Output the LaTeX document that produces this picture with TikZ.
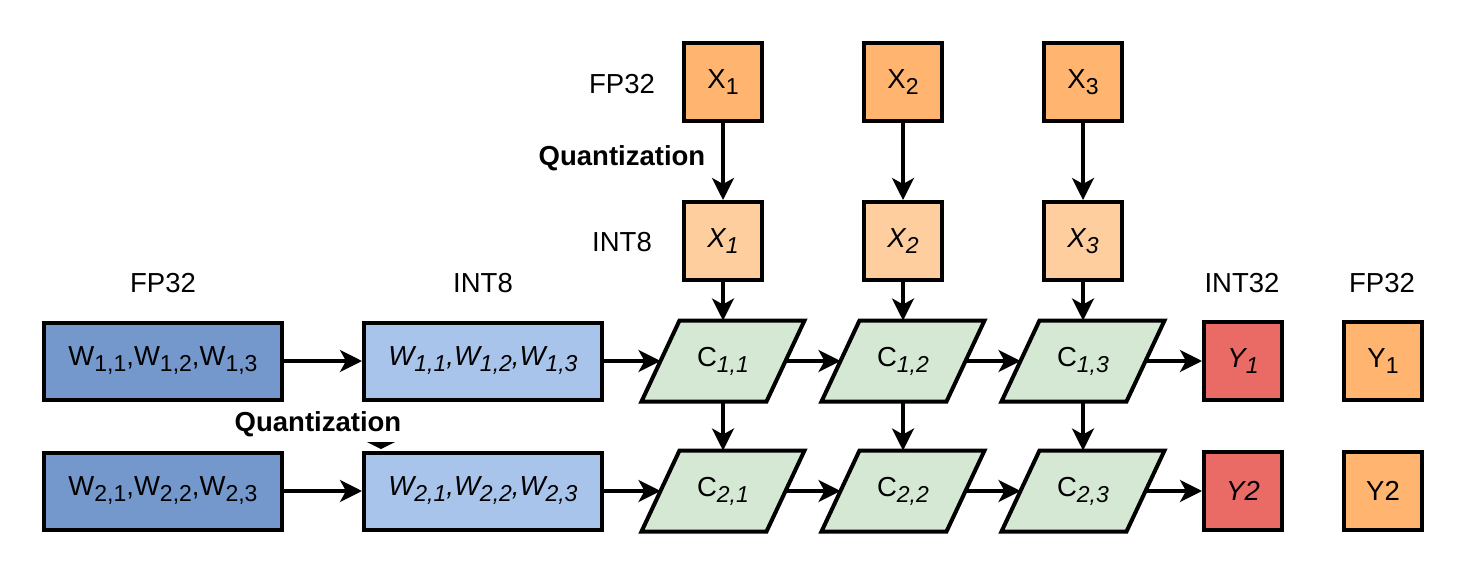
\documentclass[tikz,border=0pt]{standalone}
\usepackage{fontspec}
\setmainfont{Liberation Sans}
\usetikzlibrary{arrows.meta,backgrounds,calc}
\definecolor{wfp}{HTML}{7498CC}
\definecolor{wint}{HTML}{A9C4EB}
\definecolor{xfp}{HTML}{FFB570}
\definecolor{xint}{HTML}{FFCE9F}
\definecolor{cgreen}{HTML}{D5E8D4}
\definecolor{yred}{HTML}{EA6B66}
\newcommand{\sbs}[1]{\raisebox{-6pt}{\fontsize{23}{23}\selectfont #1}}
\begin{document}
\begin{tikzpicture}[x=1pt,y=-1pt,
 lab/.style={font=\fontsize{27.5}{33}\selectfont, inner sep=0pt},
 boldlab/.style={font=\fontsize{27.5}{33}\selectfont\bfseries, inner sep=0pt},
 box/.style={draw, line width=4pt, font=\fontsize{27.5}{33}\selectfont, inner sep=0pt},
 sq/.style={box, minimum width=78pt, minimum height=78pt},
 wbox/.style={box, minimum width=238pt, minimum height=77pt},
 cnode/.style={font=\fontsize{27.5}{33}\selectfont, inner sep=0pt, outer sep=2pt, minimum width=121pt, minimum height=77pt},
 arr/.style={line width=3.5pt, -{Stealth[length=22pt,width=22pt,inset=6pt]}},
 para/.style={fill=cgreen, draw, line width=4pt, line join=miter}]
\useasboundingbox (0,0) rectangle (1464,572);

% X inputs
\node[sq, fill=xfp] (xf1) at (723,82) {X\sbs{1}};
\node[sq, fill=xfp] (xf2) at (903,82) {X\sbs{2}};
\node[sq, fill=xfp] (xf3) at (1083,82) {X\sbs{3}};
\node[sq, fill=xint] (xi1) at (723,241) {\itshape X\sbs{1}};
\node[sq, fill=xint] (xi2) at (903,241) {\itshape X\sbs{2}};
\node[sq, fill=xint] (xi3) at (1083,241) {\itshape X\sbs{3}};

% W
\node[wbox, fill=wfp] (wf1) at (163,361) {W\sbs{1,1},W\sbs{1,2},W\sbs{1,3}};
\node[wbox, fill=wfp] (wf2) at (163,491) {W\sbs{2,1},W\sbs{2,2},W\sbs{2,3}};
\node[wbox, fill=wint] (wi1) at (483,361) {\itshape W\sbs{1,1},W\sbs{1,2},W\sbs{1,3}};
\node[wbox, fill=wint] (wi2) at (483,491) {\itshape W\sbs{2,1},W\sbs{2,2},W\sbs{2,3}};

% C
\node[cnode] (c11) at (723,361) {C\sbs{\itshape 1,1}};
\node[cnode] (c12) at (903,361) {C\sbs{\itshape 1,2}};
\node[cnode] (c13) at (1083,361) {C\sbs{\itshape 1,3}};
\node[cnode] (c21) at (723,491) {C\sbs{\itshape 2,1}};
\node[cnode] (c22) at (903,491) {C\sbs{\itshape 2,2}};
\node[cnode] (c23) at (1083,491) {C\sbs{\itshape 2,3}};

% Y
\node[sq, fill=yred] (yi1) at (1243,361) {\itshape Y\sbs{1}};
\node[sq, fill=yred] (yi2) at (1243,491) {\itshape Y2};
\node[sq, fill=xfp] (yf1) at (1383,361) {Y\sbs{1}};
\node[sq, fill=xfp] (yf2) at (1383,491) {Y2};

% labels
\node[lab] (l1) at (622,84) {FP32};
\node[boldlab] (q1) at (622,158) {Quantization};
\node[lab] (l2) at (622,242) {INT8};
\node[lab] (l3) at (163,283) {FP32};
\node[lab] (l4) at (483,283) {INT8};
\node[lab] (l5) at (1242,283) {INT32};
\node[lab] (l6) at (1382,283) {FP32};
\node[boldlab] (q2) at (318,424) {Quantization};

% background: white + parallelograms
\begin{scope}[on background layer]
\fill[white] (0,0) rectangle (1464,572);
\foreach \n in {c11,c12,c13,c21,c22,c23}{
  \draw[para] ($(\n.south west)+(-19,0)$) -- ($(\n.north west)+(19,0)$) -- ($(\n.north east)+(19,0)$) -- ($(\n.south east)+(-19,0)$) -- cycle;
}
\end{scope}

% arrows
\draw[arr] (xf1) -- (xi1);
\draw[arr] (xf2) -- (xi2);
\draw[arr] (xf3) -- (xi3);
\draw[arr] (xi1) -- (c11);
\draw[arr] (xi2) -- (c12);
\draw[arr] (xi3) -- (c13);
\draw[arr] (wf1) -- (wi1);
\draw[arr] (wf2) -- (wi2);
\draw[arr] (wi1) -- (c11);
\draw[arr] (wi2) -- (c21);
\draw[arr] (c11) -- (c12);
\draw[arr] (c12) -- (c13);
\draw[arr] (c21) -- (c22);
\draw[arr] (c22) -- (c23);
\draw[arr] (c11) -- (c21);
\draw[arr] (c12) -- (c22);
\draw[arr] (c13) -- (c23);
\draw[arr] (c13) -- (yi1);
\draw[arr] (c23) -- (yi2);
\coordinate (qt) at (381,438);
\coordinate (qb) at (381,449);
\fill (qt |- 0,442) ++(-14,0) -- ++(28,0) -- (qb) -- cycle;
\end{tikzpicture}
\end{document}
